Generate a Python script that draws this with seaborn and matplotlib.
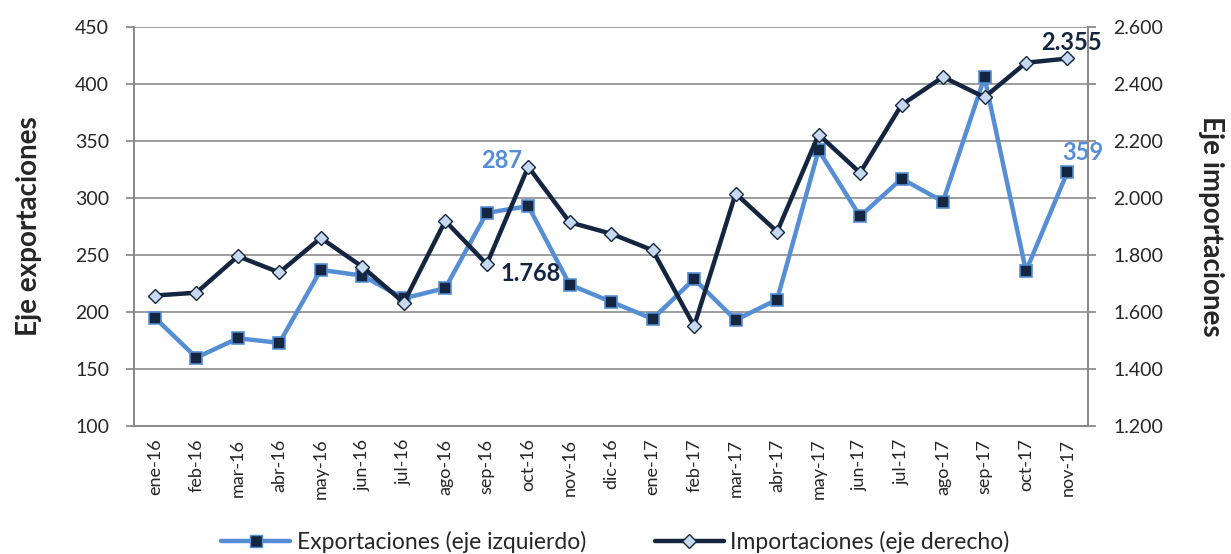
import matplotlib
matplotlib.use("Agg")
import matplotlib.pyplot as plt
import seaborn as sns
import pandas as pd
import numpy as np
from matplotlib.lines import Line2D

months = ["ene-16", "feb-16", "mar-16", "abr-16", "may-16", "jun-16", "jul-16",
          "ago-16", "sep-16", "oct-16", "nov-16", "dic-16", "ene-17", "feb-17",
          "mar-17", "abr-17", "may-17", "jun-17", "jul-17", "ago-17", "sep-17",
          "oct-17", "nov-17"]
exportaciones = [195, 160, 177, 173, 237, 232, 212, 221, 287, 293, 224, 209,
                 194, 229, 193, 211, 342, 284, 317, 297, 406, 236, 323]
importaciones = [1658, 1668, 1796, 1739, 1860, 1759, 1633, 1920, 1768, 2110,
                 1915, 1875, 1817, 1551, 2016, 1882, 2223, 2089, 2327, 2425,
                 2354, 2475, 2490]
left_ticks = [100, 150, 200, 250, 300, 350, 400, 450]
right_ticks = [1200, 1400, 1600, 1800, 2000, 2200, 2400, 2600]
right_tick_labels = ["1.200", "1.400", "1.600", "1.800", "2.000", "2.200", "2.400", "2.600"]

sns.set_theme(style="white")
plt.rcParams['font.family'] = ['Lato', 'DejaVu Sans']

c_exp = "#558ED5"
c_exp_face = "#142640"
c_imp = "#14253F"
c_imp_face = "#C6D9F1"

df = pd.DataFrame({"mes": months, "x": np.arange(len(months)),
                   "exp": exportaciones, "imp": importaciones})

fig = plt.figure(figsize=(12.31, 5.54), dpi=100)
ax = fig.add_axes([0.109, 0.231, 0.775, 0.720])
ax2 = ax.twinx()

sns.lineplot(data=df, x="x", y="exp", ax=ax, color=c_exp, linewidth=3.2,
             marker="s", markersize=9, markerfacecolor=c_exp_face,
             markeredgecolor=c_exp, markeredgewidth=1.2, zorder=3)
sns.lineplot(data=df, x="x", y="imp", ax=ax2, color=c_imp, linewidth=3.2,
             marker="D", markersize=7, markerfacecolor=c_imp_face,
             markeredgecolor=c_imp, markeredgewidth=1.0, zorder=3)

ax.set_ylim(100, 450)
ax2.set_ylim(1200, 2600)
ax.set_xlim(-0.5, len(months) - 0.5)
ax.set_yticks(left_ticks)
ax.set_yticklabels([str(t) for t in left_ticks], fontsize=14)
ax2.set_yticks(right_ticks)
ax2.set_yticklabels(right_tick_labels, fontsize=14)

ax.set_xticks(np.arange(len(months)))
ax.set_xticklabels(months, rotation=90, fontsize=13)
ax.set_xticks(np.arange(len(months) + 1) - 0.5, minor=True)
ax.tick_params(axis="x", which="major", length=0, pad=9)
ax.tick_params(axis="x", which="minor", length=6, color="#888888", direction="out")
ax.tick_params(axis="y", length=6, color="#888888", direction="out", pad=12)
ax2.tick_params(axis="y", length=6, color="#888888", direction="out", pad=12)

ax.grid(axis="y", color="#8C8C8C", linewidth=1.2)
ax.set_axisbelow(True)
for a in (ax, ax2):
    a.spines["top"].set_visible(False)
    for s in ("left", "right", "bottom"):
        a.spines[s].set_color("#888888")
        a.spines[s].set_linewidth(1.2)

ax.set_xlabel("")
ax.set_ylabel("Eje exportaciones", fontsize=20, fontweight="bold", labelpad=24)
ax2.set_ylabel("Eje importaciones", fontsize=20, fontweight="bold",
               rotation=-90, labelpad=44)

# data labels
ax.text(8.35, 333, "287", color=c_exp, fontsize=17, fontweight="bold",
        ha="center", va="center")
ax2.text(9.05, 1737, "1.768", color=c_imp, fontsize=17, fontweight="bold",
         ha="center", va="center")
ax2.text(22.1, 2546, "2.355", color=c_imp, fontsize=17, fontweight="bold",
         ha="center", va="center")
ax.text(22.36, 340, "359", color=c_exp, fontsize=17, fontweight="bold",
        ha="center", va="center")

handles = [
    Line2D([], [], color=c_exp, linewidth=3.2, marker="s", markersize=9,
           markerfacecolor=c_exp_face, markeredgecolor=c_exp),
    Line2D([], [], color=c_imp, linewidth=3.2, marker="D", markersize=7,
           markerfacecolor=c_imp_face, markeredgecolor=c_imp),
]
fig.legend(handles, ["Exportaciones (eje izquierdo)", "Importaciones (eje derecho)"],
           loc="lower center", bbox_to_anchor=(0.5, -0.035), ncol=2, frameon=False,
           fontsize=16.5, handlelength=3, columnspacing=3, handletextpad=0.3)

fig.savefig("out.png", dpi=100)
